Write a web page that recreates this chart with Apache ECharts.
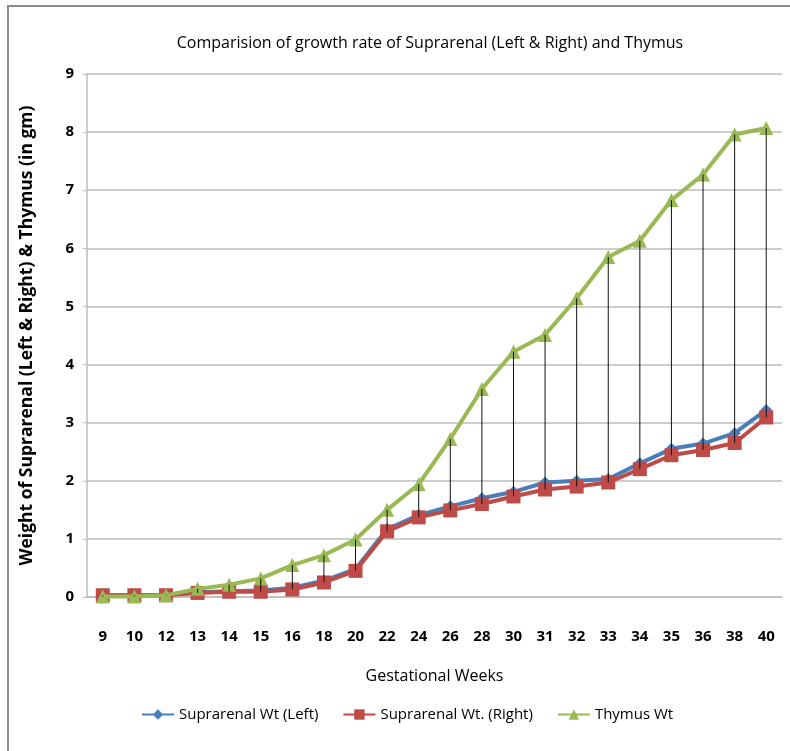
<!DOCTYPE html>
<html>
<head>
<meta charset="utf-8">
<script src="https://cdn.jsdelivr.net/npm/echarts@6/dist/echarts.min.js"></script>
<style>
  html, body { margin: 0; padding: 0; background: #fff; }
  #chart { width: 790px; height: 751px; }
</style>
</head>
<body>
<div id="chart"></div>
<script>
var weeks = ['9', '10', '12', '13', '14', '15', '16', '18', '20', '22', '24', '26', '28', '30', '31', '32', '33', '34', '35', '36', '38', '40'];
var leftWt = [0.03, 0.03, 0.04, 0.08, 0.10, 0.11, 0.16, 0.28, 0.48, 1.17, 1.41, 1.56, 1.70, 1.81, 1.97, 2.00, 2.03, 2.30, 2.55, 2.64, 2.82, 3.22];
var rightWt = [0.03, 0.03, 0.03, 0.07, 0.09, 0.09, 0.13, 0.25, 0.45, 1.13, 1.37, 1.49, 1.60, 1.73, 1.85, 1.90, 1.97, 2.20, 2.44, 2.53, 2.65, 3.09];
var thymusWt = [0.01, 0.01, 0.03, 0.14, 0.21, 0.32, 0.55, 0.72, 0.99, 1.50, 1.94, 2.72, 3.58, 4.22, 4.51, 5.14, 5.85, 6.13, 6.83, 7.27, 7.96, 8.07];
var seriesNames = ['Suprarenal Wt (Left)', 'Suprarenal Wt. (Right)', 'Thymus Wt'];

var font = '"Open Sans", sans-serif';

// high-low lines: from highest to lowest value of each week
var hiLo = weeks.map(function (w, i) {
    var vals = [leftWt[i], rightWt[i], thymusWt[i]];
    return [i, Math.max.apply(null, vals), Math.min.apply(null, vals)];
});

var chart = echarts.init(document.getElementById('chart'));

chart.setOption({
    backgroundColor: '#fff',
    animation: false,
    title: {
        text: 'Comparision of growth rate of Suprarenal (Left & Right) and Thymus',
        left: 425,
        top: 30,
        textAlign: 'center',
        textStyle: { fontFamily: font, fontSize: 16, fontWeight: 'normal', color: '#000' }
    },
    graphic: [{
        type: 'rect',
        shape: { x: 8, y: 6, width: 800, height: 760 },
        style: { fill: 'none', stroke: '#8c8c8c', lineWidth: 2 },
        silent: true
    }],
    legend: {
        left: 136,
        top: 702,
        itemWidth: 32,
        itemHeight: 13,
        itemGap: 24,
        data: seriesNames,
        textStyle: { fontFamily: font, fontSize: 15, color: '#000' }
    },
    grid: { left: 87, right: 8, top: 74, bottom: 154 },
    xAxis: {
        type: 'category',
        data: weeks,
        boundaryGap: true,
        name: 'Gestational Weeks',
        nameLocation: 'middle',
        nameGap: 71,
        nameTextStyle: { fontFamily: font, fontSize: 16, color: '#000' },
        axisLine: { lineStyle: { color: '#bdbdbd', width: 1.5 } },
        axisTick: { show: false },
        axisLabel: { margin: 32, fontFamily: font, fontSize: 15, fontWeight: 'bold', color: '#000' }
    },
    yAxis: {
        type: 'value',
        min: 0,
        max: 9,
        interval: 1,
        name: 'Weight of Suprarenal (Left & Right) & Thymus (in gm)',
        nameLocation: 'middle',
        nameGap: 51,
        nameTextStyle: { fontFamily: font, fontSize: 17.5, fontWeight: 'bold', color: '#000' },
        axisLine: { show: true, lineStyle: { color: '#bdbdbd', width: 1.5 } },
        axisTick: { show: true, length: 4, lineStyle: { color: '#bdbdbd' } },
        axisLabel: { margin: 13, fontFamily: font, fontSize: 15, fontWeight: 'bold', color: '#000' },
        splitLine: { lineStyle: { color: '#bdbdbd', width: 1.5 } }
    },
    series: [{
        name: seriesNames[0],
        type: 'line',
        data: leftWt,
        symbol: 'diamond',
        symbolSize: 12,
        color: '#4a7ebb',
        lineStyle: { width: 4 },
        z: 2
    }, {
        name: seriesNames[1],
        type: 'line',
        data: rightWt,
        symbol: 'rect',
        symbolSize: 14,
        color: '#be4b48',
        lineStyle: { width: 4 },
        z: 3
    }, {
        name: seriesNames[2],
        type: 'line',
        data: thymusWt,
        symbol: 'triangle',
        symbolSize: 14,
        color: '#98b954',
        lineStyle: { width: 4 },
        z: 4
    }, {
        type: 'custom',
        data: hiLo,
        encode: { x: 0, y: [1, 2] },
        z: 5,
        silent: true,
        renderItem: function (params, api) {
            var hi = api.coord([api.value(0), api.value(1)]);
            var lo = api.coord([api.value(0), api.value(2)]);
            return {
                type: 'line',
                shape: { x1: hi[0], y1: hi[1], x2: lo[0], y2: lo[1] },
                style: { stroke: '#111', lineWidth: 1 }
            };
        }
    }]
});
</script>
</body>
</html>
